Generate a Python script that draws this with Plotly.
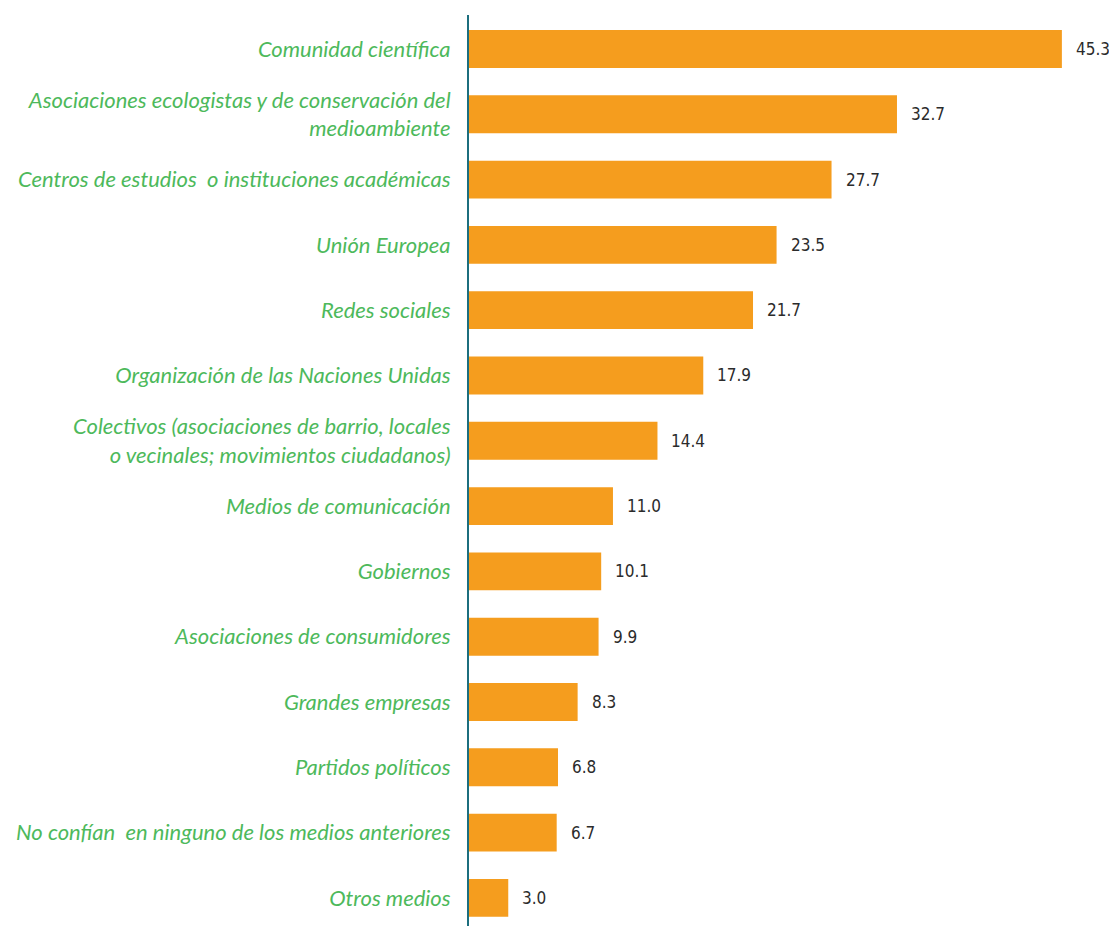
import plotly.graph_objects as go

categorias = [
    "Comunidad científica",
    "Asociaciones ecologistas y de conservación del<br>medioambiente",
    "Centros de estudios  o instituciones académicas",
    "Unión Europea",
    "Redes sociales",
    "Organización de las Naciones Unidas",
    "Colectivos (asociaciones de barrio, locales<br>o vecinales; movimientos ciudadanos)",
    "Medios de comunicación",
    "Gobiernos",
    "Asociaciones de consumidores",
    "Grandes empresas",
    "Partidos políticos",
    "No confían  en ninguno de los medios anteriores",
    "Otros medios",
]
valores = [45.3, 32.7, 27.7, 23.5, 21.7, 17.9, 14.4, 11.0, 10.1, 9.9, 8.3, 6.8, 6.7, 3.0]

posiciones = list(range(len(categorias)))

fig = go.Figure(
    go.Bar(
        x=valores,
        y=posiciones,
        orientation="h",
        marker=dict(color="#F59D1E", line=dict(width=0)),
        width=0.58,
        hoverinfo="skip",
    )
)

for pos, val in zip(posiciones, valores):
    fig.add_annotation(
        x=val, y=pos, text=f"{val:.1f}",
        showarrow=False, xanchor="left", xshift=12,
        font=dict(family="DejaVu Sans Condensed, Liberation Sans Narrow, sans-serif",
                  size=17, color="#2B2B2B"),
    )

fig.update_layout(
    width=1109,
    height=926,
    margin=dict(l=469, r=0, t=15, b=0),
    plot_bgcolor="white",
    paper_bgcolor="white",
    showlegend=False,
    xaxis=dict(
        range=[0, 48.9],
        visible=False,
        fixedrange=True,
    ),
    yaxis=dict(
        range=[13.43, -0.52],
        tickmode="array",
        tickvals=posiciones,
        ticktext=[f"<i>{c}</i>" for c in categorias],
        tickfont=dict(family="Lato, Open Sans, sans-serif", size=22, color="#4DB95B"),
        showline=True,
        linecolor="#1C6E7E",
        linewidth=2,
        showgrid=False,
        zeroline=False,
        ticks="",
        ticklabelstandoff=12,
        fixedrange=True,
    ),
)

fig.write_html("out.html")
